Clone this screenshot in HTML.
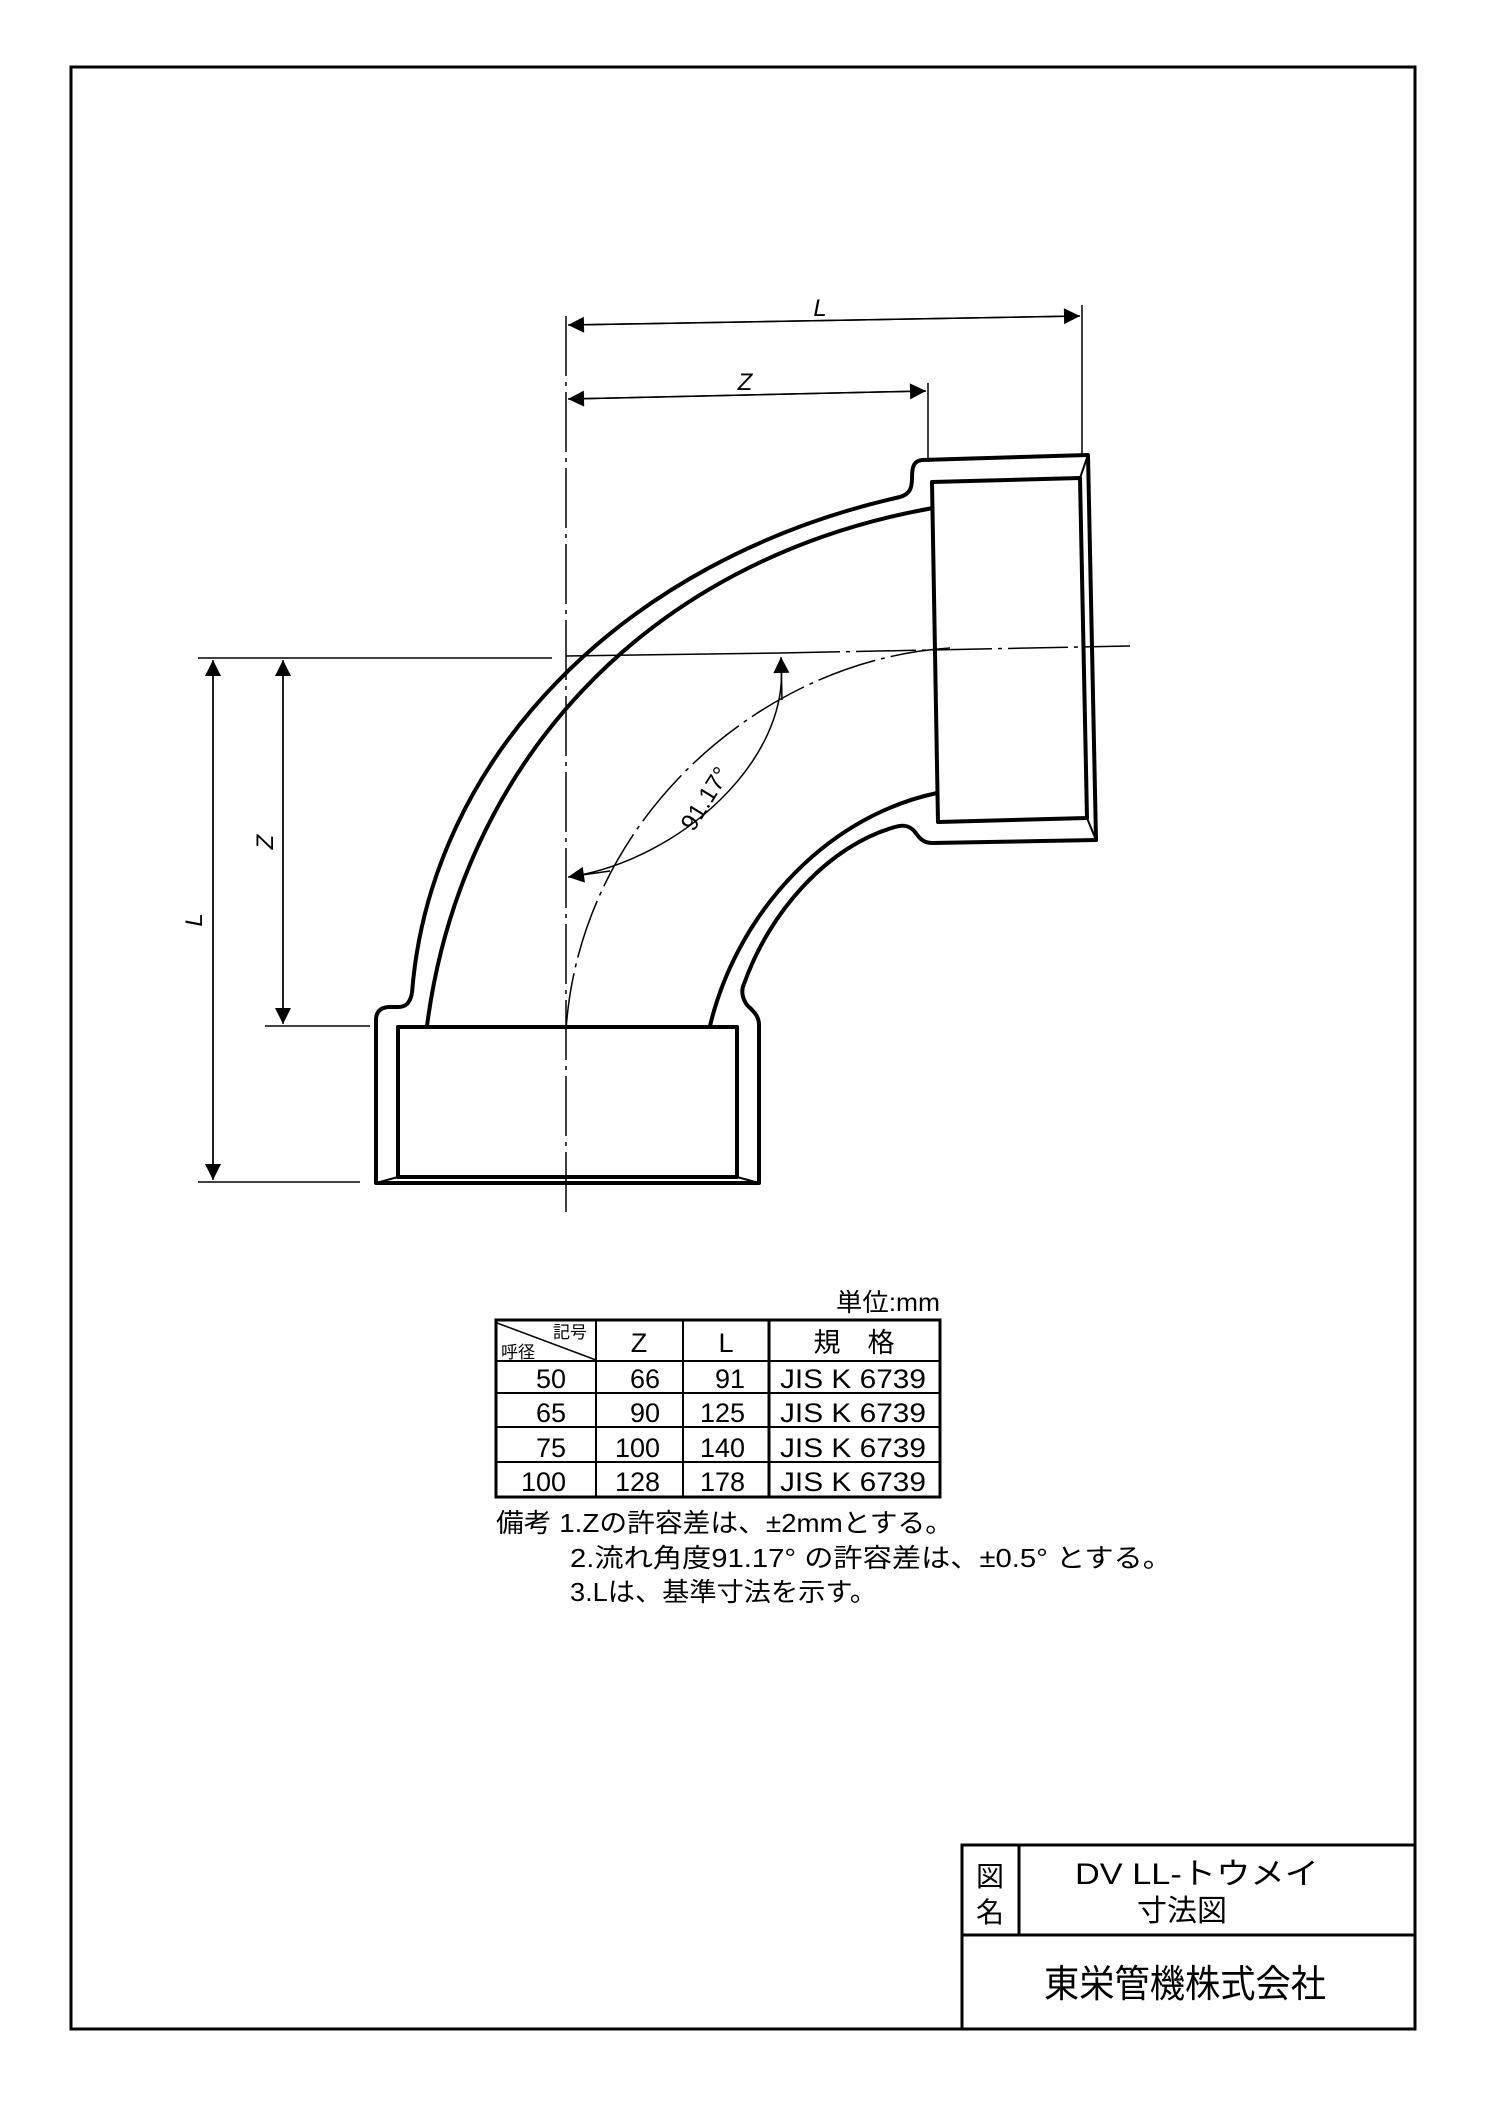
<!DOCTYPE html>
<html><head><meta charset="utf-8"><style>
html,body{margin:0;padding:0;background:#fff;}
svg{display:block;}
text{font-family:"Liberation Sans","Noto Sans CJK JP",sans-serif;fill:#000;}
</style></head><body>
<svg width="1488" height="2104" viewBox="0 0 1488 2104" xmlns="http://www.w3.org/2000/svg">
<defs>
<marker id="ar" viewBox="0 0 10 10" refX="10" refY="5" markerWidth="26" markerHeight="16" markerUnits="userSpaceOnUse" orient="auto">
<path d="M0,0 L10,5 L0,10 Z" fill="#000"/></marker>
</defs>
<rect x="71" y="67" width="1344" height="1962" fill="none" stroke="#000" stroke-width="3"/>

<g stroke="#000" stroke-width="1.5" fill="none">
<line x1="566" y1="316" x2="566" y2="1218" stroke-dasharray="60,6,4,6"/>
<line x1="1082" y1="305" x2="1082" y2="455"/>
<line x1="928" y1="383" x2="928" y2="462"/>
<line x1="569" y1="325" x2="1080" y2="316" marker-end="url(#ar)"/>
<line x1="1079" y1="316" x2="568" y2="325" marker-end="url(#ar)"/>
<line x1="569" y1="399" x2="926" y2="391" marker-end="url(#ar)"/>
<line x1="925" y1="391" x2="568" y2="399" marker-end="url(#ar)"/>
<line x1="198" y1="658" x2="552" y2="658"/>
<line x1="265" y1="1026" x2="370" y2="1026"/>
<line x1="198" y1="1182" x2="360" y2="1182"/>
<line x1="213" y1="661" x2="213" y2="1180" marker-end="url(#ar)"/>
<line x1="213" y1="1179" x2="213" y2="660" marker-end="url(#ar)"/>
<line x1="283" y1="661" x2="283" y2="1024" marker-end="url(#ar)"/>
<line x1="283" y1="1023" x2="283" y2="660" marker-end="url(#ar)"/>
<line x1="566" y1="656" x2="780" y2="653"/>
<line x1="780" y1="653" x2="1130" y2="646" stroke-dasharray="60,6,4,6"/>
<path d="M950,648 C760,660 580,820 566,1030" stroke-dasharray="60,6,4,6"/>
<path d="M781,663 C790,760 680,860 569,877" />
<line x1="782" y1="700" x2="781" y2="657" marker-end="url(#ar)"/>
<line x1="610" y1="871" x2="568" y2="877" marker-end="url(#ar)"/>
</g>
<text x="820" y="316" font-size="24" font-style="italic" text-anchor="middle">L</text>
<text x="745" y="390" font-size="24" font-style="italic" text-anchor="middle">Z</text>
<text transform="translate(202,920) rotate(-90)" font-size="24" font-style="italic" text-anchor="middle">L</text>
<text transform="translate(273,842) rotate(-90)" font-size="24" font-style="italic" text-anchor="middle">Z</text>
<text transform="translate(712,803) rotate(-58)" font-size="24" text-anchor="middle">91.17°</text>

<g stroke="#000" stroke-width="4" fill="none" stroke-linejoin="round">
<path d="M412,993 C410,1003 406,1007 398,1007 L390,1007 C380,1007 376,1012 376,1020 L376,1183 L759,1183 L759,1025 C759,1015 752,1010 747,1005 C742,998 741,990 744,984"/>
<rect x="398" y="1027" width="339" height="150"/>
<line x1="376" y1="1183" x2="398" y2="1177" stroke-width="2"/>
<line x1="759" y1="1183" x2="737" y2="1177" stroke-width="2"/>
<path d="M412,993 C430,760 620,560 900,497 C910,494 912,488 912,478 C912,466 914,461 922,460 L1088,455 L1096,840 L932,843 C922,843 918,836 915,832 C910,826 904,824 895,827 C830,845 770,910 744,984"/>
<path d="M427,1026 C460,770 640,560 933,508"/>
<path d="M710,1026 C735,920 820,818 937,793"/>
<path d="M932,482 L1080,478 L1087,818 L938,822 Z"/>
<line x1="1088" y1="455" x2="1080" y2="478" stroke-width="2"/>
<line x1="1096" y1="840" x2="1087" y2="818" stroke-width="2"/>
</g>

<text x="836" y="1311" font-size="25" textLength="104" lengthAdjust="spacingAndGlyphs">単位:mm</text>
<g stroke="#000" fill="none">
<rect x="496" y="1320" width="444" height="177" stroke-width="3"/>
<line x1="596" y1="1320" x2="596" y2="1497" stroke-width="2"/>
<line x1="683" y1="1320" x2="683" y2="1497" stroke-width="2"/>
<line x1="769" y1="1320" x2="769" y2="1497" stroke-width="3"/>
<line x1="496" y1="1361" x2="940" y2="1361" stroke-width="2"/>
<line x1="496" y1="1393" x2="940" y2="1393" stroke-width="2"/>
<line x1="496" y1="1427" x2="940" y2="1427" stroke-width="2"/>
<line x1="496" y1="1462" x2="940" y2="1462" stroke-width="2"/>
<line x1="497" y1="1323" x2="596" y2="1360" stroke-width="1.5"/>
</g>
<g font-size="27">
<text x="553" y="1338" font-size="17">記号</text>
<text x="501" y="1358" font-size="17">呼径</text>
<text x="639" y="1352" text-anchor="middle">Z</text>
<text x="726" y="1352" text-anchor="middle">L</text>
<text x="854" y="1352" text-anchor="middle">規　格</text>
<text x="566" y="1388" text-anchor="end">50</text>
<text x="660" y="1388" text-anchor="end">66</text>
<text x="745" y="1388" text-anchor="end">91</text>
<text x="780" y="1388" textLength="146" lengthAdjust="spacingAndGlyphs">JIS K 6739</text>
<text x="566" y="1422" text-anchor="end">65</text>
<text x="660" y="1422" text-anchor="end">90</text>
<text x="745" y="1422" text-anchor="end">125</text>
<text x="780" y="1422" textLength="146" lengthAdjust="spacingAndGlyphs">JIS K 6739</text>
<text x="566" y="1457" text-anchor="end">75</text>
<text x="660" y="1457" text-anchor="end">100</text>
<text x="745" y="1457" text-anchor="end">140</text>
<text x="780" y="1457" textLength="146" lengthAdjust="spacingAndGlyphs">JIS K 6739</text>
<text x="566" y="1491" text-anchor="end">100</text>
<text x="660" y="1491" text-anchor="end">128</text>
<text x="745" y="1491" text-anchor="end">178</text>
<text x="780" y="1491" textLength="146" lengthAdjust="spacingAndGlyphs">JIS K 6739</text>
</g>
<g font-size="26">
<text x="496" y="1532" textLength="457" lengthAdjust="spacingAndGlyphs">備考 1.Zの許容差は、±2mmとする。</text>
<text x="570" y="1567" textLength="602" lengthAdjust="spacingAndGlyphs">2.流れ角度91.17° の許容差は、±0.5° とする。</text>
<text x="570" y="1601" textLength="307" lengthAdjust="spacingAndGlyphs">3.Lは、基準寸法を示す。</text>
</g>

<g stroke="#000" stroke-width="3" fill="none">
<polyline points="962,2029 962,1845 1415,1845"/>
<line x1="962" y1="1935" x2="1415" y2="1935"/>
<line x1="1019" y1="1845" x2="1019" y2="1935"/>
</g>
<text x="990" y="1886" font-size="28" text-anchor="middle">図</text>
<text x="990" y="1922" font-size="28" text-anchor="middle">名</text>
<text x="1075" y="1884" font-size="30" textLength="244" lengthAdjust="spacingAndGlyphs">DV LL-トウメイ</text>
<text x="1182" y="1921" font-size="30" text-anchor="middle">寸法図</text>
<text x="1044" y="1997" font-size="38" textLength="282" lengthAdjust="spacingAndGlyphs">東栄管機株式会社</text>
</svg>
</body></html>
